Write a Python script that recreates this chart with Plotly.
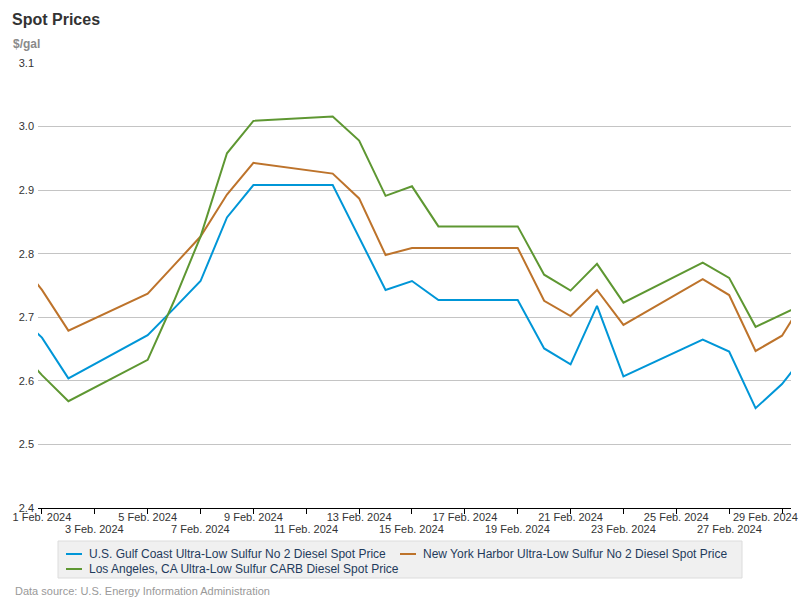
import plotly.graph_objects as go

dates = ["2024-01-31", "2024-02-01", "2024-02-02", "2024-02-05", "2024-02-06", "2024-02-07",
         "2024-02-08", "2024-02-09", "2024-02-12", "2024-02-13", "2024-02-14", "2024-02-15",
         "2024-02-16", "2024-02-19", "2024-02-20", "2024-02-21", "2024-02-22", "2024-02-23",
         "2024-02-26", "2024-02-27", "2024-02-28", "2024-02-29", "2024-03-01"]

gulf_coast = [2.708, 2.668, 2.604, 2.672, 2.714, 2.757, 2.857, 2.908, 2.908, 2.825, 2.743, 2.757,
              2.727, 2.727, 2.651, 2.626, 2.718, 2.607, 2.665, 2.646, 2.557, 2.595, 2.648]
new_york = [2.796, 2.743, 2.679, 2.737, 2.782, 2.827, 2.893, 2.943, 2.926, 2.887, 2.798, 2.809,
            2.809, 2.809, 2.726, 2.702, 2.743, 2.688, 2.760, 2.735, 2.647, 2.671, 2.737]
los_angeles = [2.655, 2.609, 2.568, 2.633, 2.726, 2.827, 2.958, 3.009, 3.016, 2.978, 2.891, 2.906,
               2.843, 2.843, 2.767, 2.742, 2.784, 2.723, 2.786, 2.762, 2.685, 2.704, 2.724]

series_names = ["U.S. Gulf Coast Ultra-Low Sulfur No 2 Diesel Spot Price",
                "New York Harbor Ultra-Low Sulfur No 2 Diesel Spot Price",
                "Los Angeles, CA Ultra-Low Sulfur CARB Diesel Spot Price"]
series_colors = ["#0096d7", "#bd732b", "#5e9732"]

tick_days = list(range(1, 30, 2))
tick_vals = [f"2024-02-{d:02d}" for d in tick_days]
tick_labels = [f"{d} Feb. 2024" for d in tick_days]

y_ticks = [2.4, 2.5, 2.6, 2.7, 2.8, 2.9, 3.0, 3.1]

FONT = "Arial, 'Liberation Sans', sans-serif"
X_RANGE = ["2024-01-31 20:24", "2024-02-29 08:10"]

# plot area in pixels: left 38, right 791, top 63, bottom 508
PL, PR, PT, PB = 38, 791, 63, 508
def px(xp):
    return (xp - PL) / (PR - PL)
def py(yp):
    return (PB - yp) / (PB - PT)

fig = go.Figure()
for name, vals, col in zip(series_names, [gulf_coast, new_york, los_angeles], series_colors):
    fig.add_trace(go.Scatter(x=dates, y=vals, mode="lines", name=name,
                             line=dict(color=col, width=2), hoverinfo="skip", showlegend=False))

# manual legend (box, short line samples, labels)
legend_pos = [(66, 554), (400, 554), (66, 569)]
shapes = [dict(type="rect", xref="paper", yref="paper",
               x0=px(58), x1=px(742), y0=py(541), y1=py(578),
               fillcolor="#f0f0f0", line=dict(color="#dcdcdc", width=1), layer="below")]
annotations = []
for (lx, ly), name, col in zip(legend_pos, series_names, series_colors):
    shapes.append(dict(type="line", xref="paper", yref="paper",
                       x0=px(lx), x1=px(lx + 16), y0=py(ly), y1=py(ly),
                       line=dict(color=col, width=2)))
    annotations.append(dict(text=name, xref="paper", yref="paper", x=px(lx + 21), y=py(ly),
                            xanchor="left", yanchor="middle", showarrow=False,
                            font=dict(family=FONT, size=12, color="#1f3b5c")))

# staggered date labels: odd ticks on a second row, last label kept inside the chart
axis_text = []
last = len(tick_vals) - 1
for i, (tv, tl) in enumerate(zip(tick_vals, tick_labels)):
    if i % 2 == 1:
        axis_text.append("")
        annotations.append(dict(text=tl, xref="x", yref="paper", x=tv, y=py(529),
                                xanchor="center", yanchor="middle", showarrow=False,
                                font=dict(family=FONT, size=11, color="#333333")))
    elif i == last:
        axis_text.append("")
        annotations.append(dict(text=tl, xref="x", yref="paper", x=tv, y=py(517),
                                xanchor="right", xshift=18, yanchor="middle", showarrow=False,
                                font=dict(family=FONT, size=11, color="#333333")))
    else:
        axis_text.append(tl)

annotations += [
    dict(text="<b>Spot Prices</b>", xref="paper", yref="paper", x=px(10), y=py(19),
         xanchor="left", yanchor="middle", showarrow=False,
         font=dict(family=FONT, size=16, color="#333333")),
    dict(text="<b>$/gal</b>", xref="paper", yref="paper", x=px(11), y=py(44),
         xanchor="left", yanchor="middle", showarrow=False,
         font=dict(family=FONT, size=12, color="#8a8a8a")),
    dict(text="Data source: U.S. Energy Information Administration", xref="paper", yref="paper",
         x=px(13), y=py(591), xanchor="left", yanchor="middle", showarrow=False,
         font=dict(family=FONT, size=11, color="#999999")),
]

fig.update_layout(
    width=800, height=600,
    margin=dict(l=PL, r=800 - PR, t=PT, b=600 - PB, autoexpand=False),
    paper_bgcolor="white", plot_bgcolor="white",
    font=dict(family=FONT, size=11, color="#333333"),
    showlegend=False,
    shapes=shapes,
    annotations=annotations,
    xaxis=dict(type="date", automargin=False, range=X_RANGE,
               tickmode="array", tickvals=tick_vals, ticktext=axis_text,
               tickangle=0, ticklabelstandoff=-6, ticklabeloverflow="allow",
               ticks="outside", ticklen=5, tickcolor="#000000", tickwidth=1,
               showline=True, linecolor="#000000", linewidth=1,
               showgrid=False, zeroline=False,
               tickfont=dict(size=11, color="#333333")),
    yaxis=dict(range=[2.4, 3.1], tickmode="array", tickvals=y_ticks, automargin=False,
               ticktext=[f"{v:.1f}" for v in y_ticks], ticklabelstandoff=3,
               showgrid=True, gridcolor="#c4c4c4", gridwidth=1,
               zeroline=False, showline=False, ticks="",
               tickfont=dict(size=11, color="#333333")),
)

fig.write_html("out.html", config={"displayModeBar": False},
               post_script="document.body.style.margin='0px';")
